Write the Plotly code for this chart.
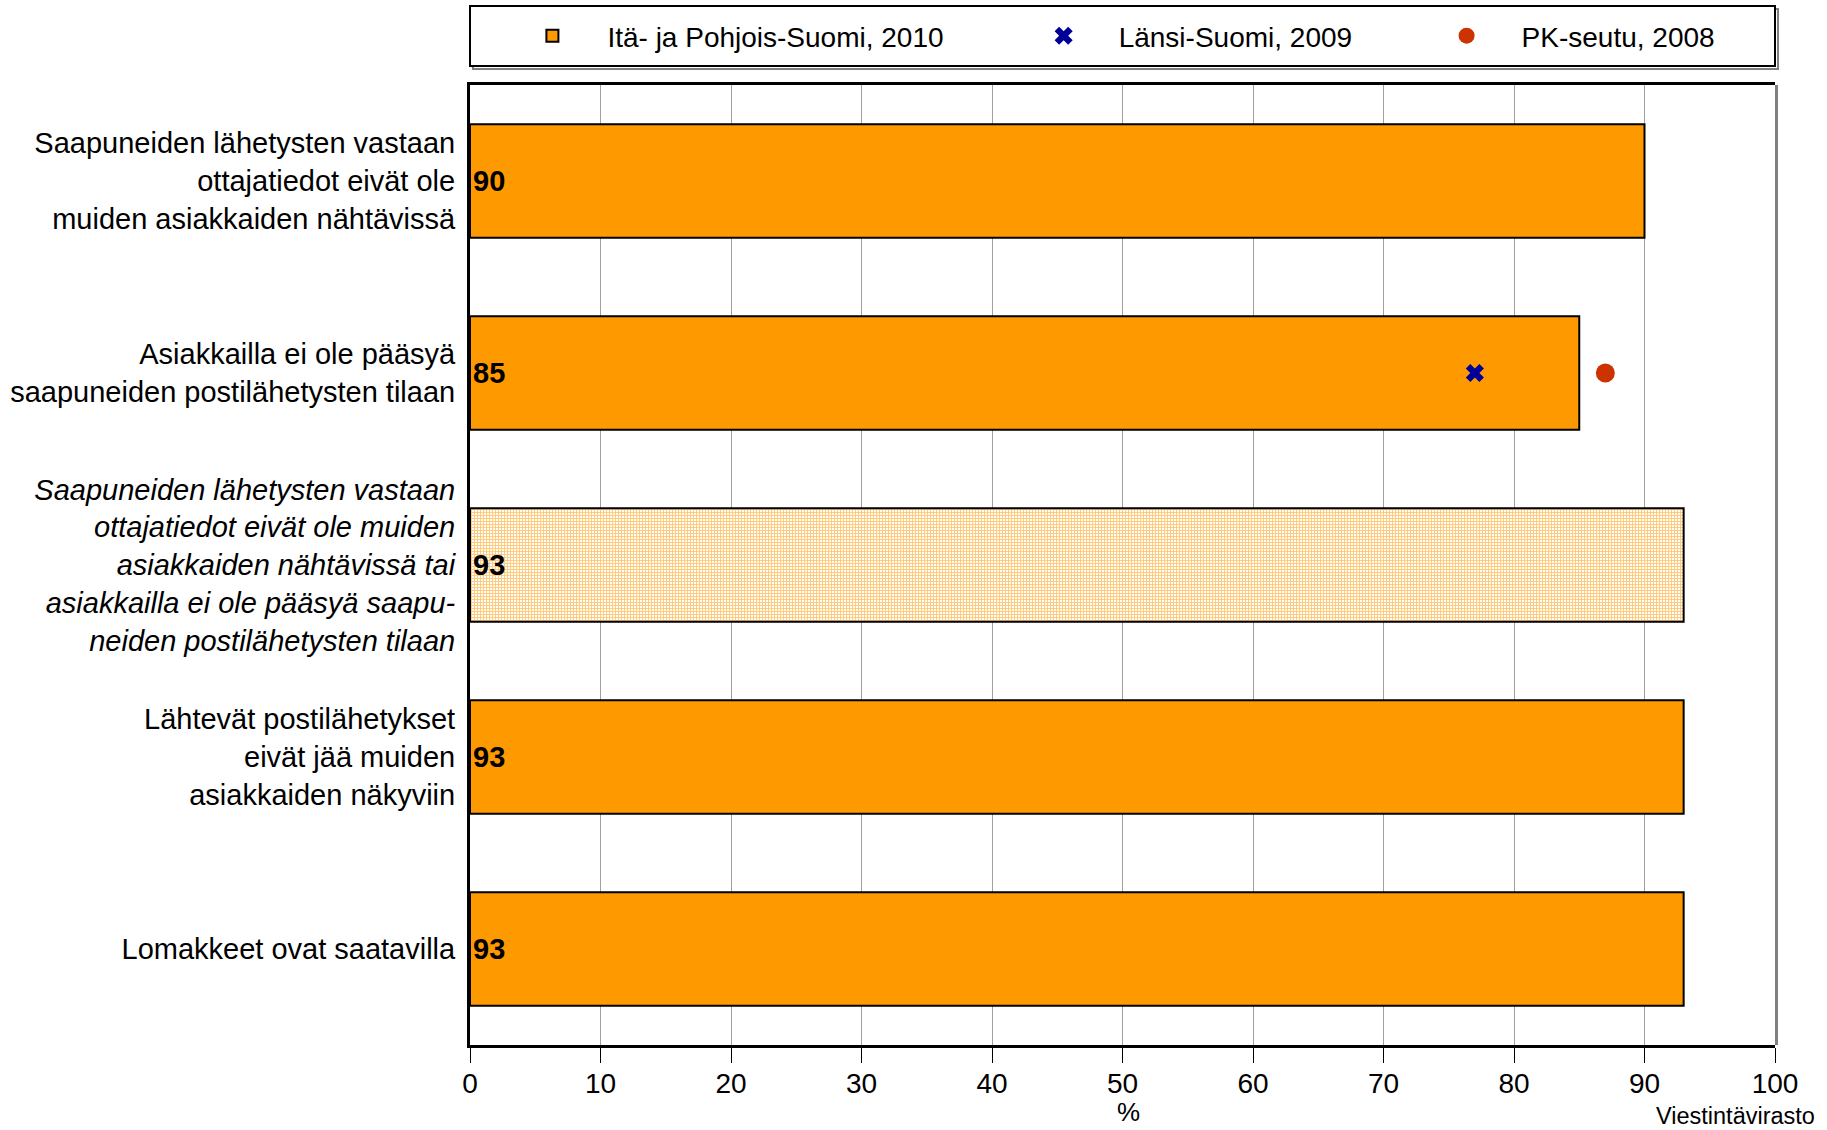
import plotly.graph_objects as go

categories = [
    "Saapuneiden lähetysten vastaan<br>ottajatiedot eivät ole<br>muiden asiakkaiden nähtävissä",
    "Asiakkailla ei ole pääsyä<br>saapuneiden postilähetysten tilaan",
    "<i>Saapuneiden lähetysten vastaan<br>ottajatiedot eivät ole muiden<br>asiakkaiden nähtävissä tai<br>asiakkailla ei ole pääsyä saapu-<br>neiden postilähetysten tilaan</i>",
    "Lähtevät postilähetykset<br>eivät jää muiden<br>asiakkaiden näkyviin",
    "Lomakkeet ovat saatavilla",
]
ita_2010 = [90, 85, 93, 93, 93]
lansi_2009 = [None, 77, None, None, None]
pk_2008 = [None, 87, None, None, None]
x_ticks = [0, 10, 20, 30, 40, 50, 60, 70, 80, 90, 100]

ORANGE = "#FF9900"
FONT = "Liberation Sans, Arial, sans-serif"
NB = "\u00a0"
THIN = "\u2009"

pattern_shape = ["", "", "+", "", ""]

fig = go.Figure()
fig.add_trace(go.Bar(
    y=categories, x=ita_2010, orientation="h",
    name="Itä- ja Pohjois-Suomi, 2010" + NB * 7 + THIN,
    marker=dict(color=ORANGE, line=dict(color="black", width=2),
                pattern=dict(shape=pattern_shape, fgcolor=ORANGE, bgcolor="white",
                             size=3, solidity=0.6)),
    text=[str(v) for v in ita_2010], textposition="inside", insidetextanchor="start",
    textfont=dict(family=FONT, size=29, color="black", weight="bold"),
    constraintext="none",
))
fig.add_trace(go.Scatter(
    y=categories, x=lansi_2009, mode="markers",
    name="Länsi-Suomi, 2009" + NB * 7,
    marker=dict(symbol="x", size=16, color="#000099", line=dict(width=0)),
))
fig.add_trace(go.Scatter(
    y=categories, x=pk_2008, mode="markers",
    name="PK-seutu, 2008",
    marker=dict(symbol="circle", size=19, color="#CC3300", line=dict(width=0)),
))

pw, ph = 1305.0, 960.0
shapes = [
    # legend box shadow and box
    dict(type="rect", xref="paper", yref="paper", x0=0 + 3 / pw, x1=1 + 3 / pw,
         y0=(1045 - 69) / ph, y1=(1045 - 9) / ph, line=dict(color="#808080", width=2),
         fillcolor="rgba(0,0,0,0)", layer="below"),
    dict(type="rect", xref="paper", yref="paper", x0=0, x1=1,
         y0=(1045 - 66) / ph, y1=(1045 - 6) / ph, line=dict(color="black", width=2),
         fillcolor="white"),
    # right border of plot (gray)
    dict(type="line", xref="paper", yref="paper", x0=1 + 1.5 / pw, x1=1 + 1.5 / pw, y0=0, y1=1,
         line=dict(color="#808080", width=3)),
]

fig.update_layout(
    width=1827, height=1130,
    margin=dict(l=470, r=52, t=85, b=85, autoexpand=False),
    paper_bgcolor="white", plot_bgcolor="white",
    font=dict(family=FONT, size=28, color="black"),
    bargap=0.41,
    showlegend=True,
    legend=dict(orientation="h", x=0.021, xanchor="left", y=(1045 - 36) / ph, yanchor="middle",
                bgcolor="rgba(0,0,0,0)", borderwidth=0, font=dict(size=28, family=FONT),
                traceorder="normal", itemwidth=100),
    shapes=shapes,
    annotations=[
        dict(text="Viestintävirasto", xref="paper", yref="paper", x=(1817 - 469.6) / pw,
             xanchor="right", y=(1045 - 1116) / ph, yanchor="middle", showarrow=False,
             font=dict(size=23.5, family=FONT)),
        dict(text="%", xref="paper", yref="paper", x=(1128 - 469.6) / pw,
             xanchor="center", y=(1045 - 1128) / ph, yanchor="bottom", showarrow=False,
             borderpad=0, font=dict(size=26, family=FONT)),
    ],
)
fig.update_xaxes(
    range=[0, 100], tickvals=x_ticks, ticktext=[str(t) for t in x_ticks],
    showgrid=True, gridcolor="#A0A0A0", gridwidth=1,
    showline=True, linecolor="black", linewidth=3, mirror=True,
    ticks="outside", ticklen=15, tickcolor="black", tickwidth=1,
    ticklabelstandoff=-4, automargin=False,
    tickfont=dict(size=28, family=FONT), zeroline=False, fixedrange=True,
)
fig.update_yaxes(
    categoryorder="array", categoryarray=categories, autorange="reversed",
    showline=True, linecolor="black", linewidth=3, mirror=False,
    ticks="", ticklabelstandoff=6, showgrid=False, automargin=False,
    tickfont=dict(size=29, family=FONT), fixedrange=True,
)

fig.write_html("out.html")
